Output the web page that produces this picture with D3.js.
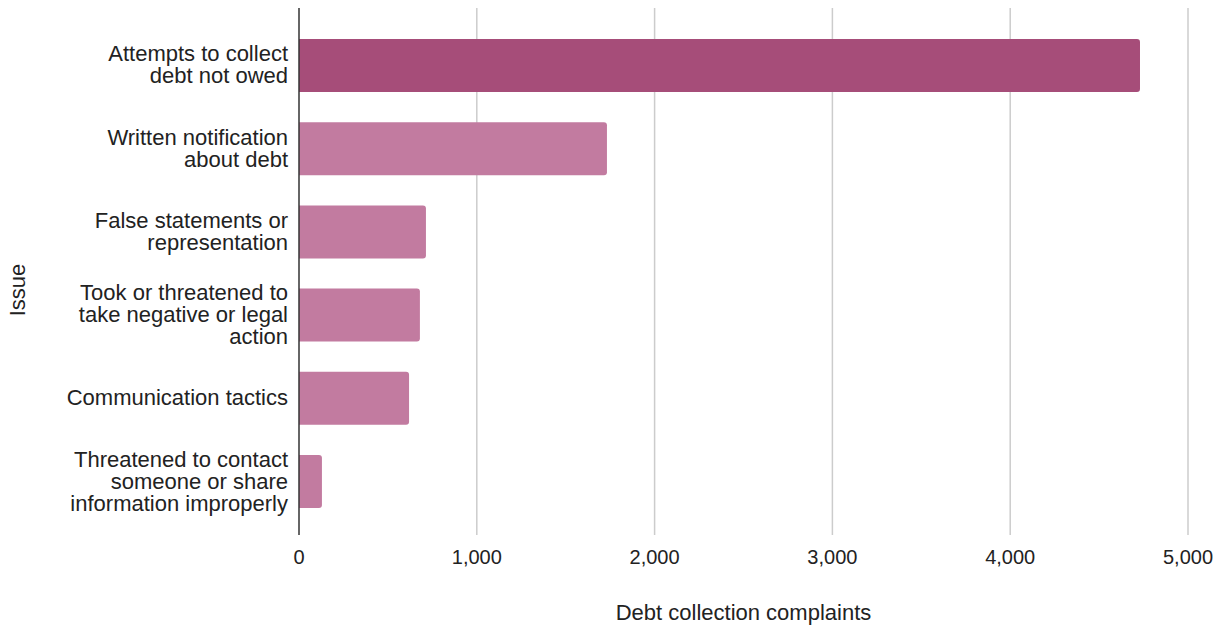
<!DOCTYPE html>
<html><head><meta charset="utf-8">
<script src="https://cdn.jsdelivr.net/npm/d3@7"></script>
<style>body{margin:0;background:#fff;} text{font-family:"Liberation Sans",Arial,sans-serif;}</style>
</head><body>
<svg id="c" width="1227" height="626"></svg>
<script>
const categories = [
  ["Attempts to collect","debt not owed"],
  ["Written notification","about debt"],
  ["False statements or","representation"],
  ["Took or threatened to","take negative or legal","action"],
  ["Communication tactics"],
  ["Threatened to contact","someone or share","information improperly"]
];
const values = [4730, 1732, 714, 680, 619, 129];
const tickValues = [0, 1000, 2000, 3000, 4000, 5000];
const xTitle = "Debt collection complaints";
const yTitle = "Issue";

const svg = d3.select("#c");
const x = d3.scaleLinear().domain([0, 5000]).range([299, 1188]);
const y = d3.scaleBand().domain(d3.range(categories.length)).range([24, 523]).paddingInner(0.363).paddingOuter(0.18);
const plotTop = 8, plotBottom = 535;

svg.append("g").selectAll("line").data(tickValues.slice(1)).join("line")
  .attr("x1", d => x(d)).attr("x2", d => x(d)).attr("y1", plotTop).attr("y2", plotBottom)
  .attr("stroke", "#cccccc").attr("stroke-width", 1.5);

const r = 3;
svg.append("g").selectAll("path").data(values).join("path")
  .attr("d", (d, i) => {
    const x0 = x(0), x1 = x(d), y0 = y(i), h = y.bandwidth();
    return `M${x0},${y0}H${x1-r}Q${x1},${y0} ${x1},${y0+r}V${y0+h-r}Q${x1},${y0+h} ${x1-r},${y0+h}H${x0}Z`;
  })
  .attr("fill", (d, i) => i === 0 ? "#a64d79" : "#c27ba0");

svg.append("line").attr("x1", x(0)).attr("x2", x(0)).attr("y1", plotTop).attr("y2", plotBottom)
  .attr("stroke", "#333").attr("stroke-width", 1.5);

svg.append("g").selectAll("text").data(tickValues).join("text")
  .attr("x", d => x(d)).attr("y", 564).attr("text-anchor", "middle")
  .attr("font-size", 20).attr("fill", "#222").text(d3.format(","));

const lh = 22;
categories.forEach((lines, i) => {
  const cy = y(i) + y.bandwidth() / 2;
  const t = svg.append("text").attr("text-anchor", "end").attr("font-size", 22).attr("fill", "#222");
  lines.forEach((l, j) => {
    t.append("tspan").attr("x", 288).attr("y", cy + (j - (lines.length - 1) / 2) * lh + 7).text(l);
  });
});

svg.append("text").attr("x", x(2500)).attr("y", 620).attr("text-anchor", "middle")
  .attr("font-size", 22).attr("fill", "#222").text(xTitle);
svg.append("text").attr("transform", "translate(25,290) rotate(-90)").attr("text-anchor", "middle")
  .attr("font-size", 22).attr("fill", "#222").text(yTitle);
</script>
</body></html>
